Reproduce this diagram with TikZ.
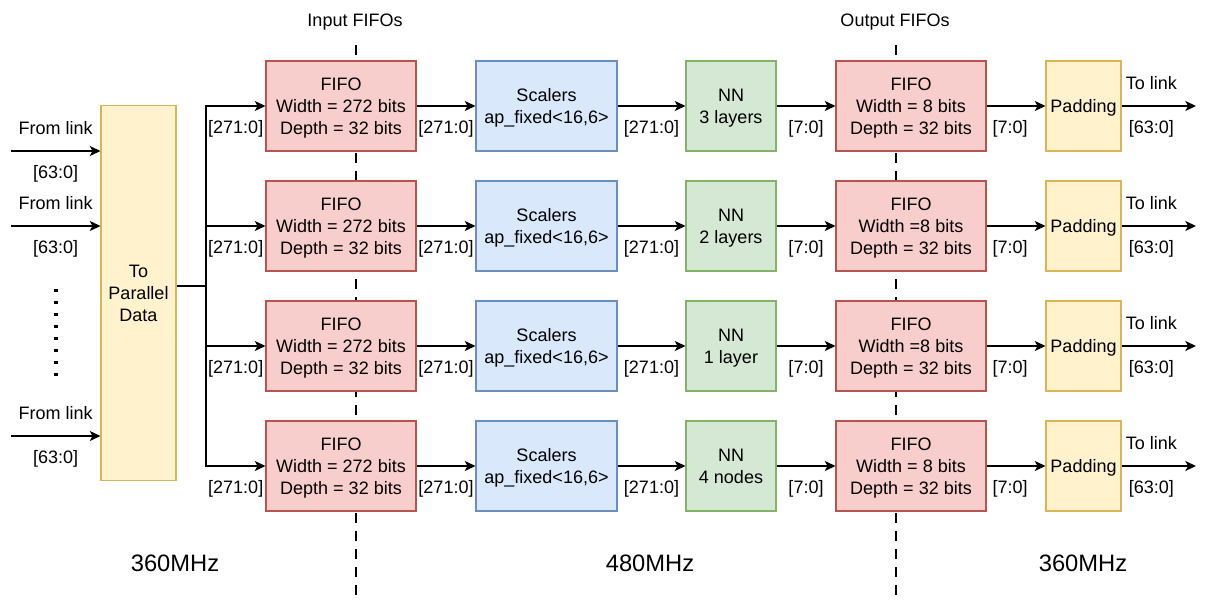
\documentclass[tikz,border=0pt]{standalone}
\usepackage{fontspec}
\setmainfont{Liberation Sans}
\usetikzlibrary{arrows.meta}
\definecolor{fifofill}{HTML}{F8CECC}
\definecolor{fifodraw}{HTML}{B85450}
\definecolor{scalfill}{HTML}{DAE8FC}
\definecolor{scaldraw}{HTML}{6C8EBF}
\definecolor{nnfill}{HTML}{D5E8D4}
\definecolor{nndraw}{HTML}{82B366}
\definecolor{yelfill}{HTML}{FFF2CC}
\definecolor{yeldraw}{HTML}{D6B656}
\begin{document}
\begin{tikzpicture}[x=0.75pt,y=-0.75pt,
  box/.style={draw, line width=0.8pt, inner sep=0pt, align=center, text depth=0pt,
    font=\fontsize{13.5}{16.5}\selectfont, minimum height=67.5pt},
  fifobox/.style={box, fill=fifofill, draw=fifodraw, minimum width=112.5pt},
  scalbox/.style={box, fill=scalfill, draw=scaldraw, minimum width=105.75pt},
  nnbox/.style={box, fill=nnfill, draw=nndraw, minimum width=67.5pt},
  padbox/.style={box, fill=yelfill, draw=yeldraw, minimum width=56.25pt},
  parabox/.style={box, fill=yelfill, draw=yeldraw, minimum width=56.25pt, minimum height=281.25pt},
  conn/.style={line width=1.1pt, -{Stealth[length=8pt,width=7.5pt,inset=2pt]}},
  bus/.style={line width=1.1pt},
  lbl/.style={font=\fontsize{13.5}{16}\selectfont, inner sep=0pt},
  dn/.style={lbl, yshift=-17.5pt},
  up/.style={lbl, yshift=17pt},
  big/.style={font=\fontsize{17.8}{20}\selectfont, inner sep=0pt},
  sep/.style={line width=2.2pt, dash pattern=on 7.5pt off 6pt},
  dots/.style={line width=2.6pt, dash pattern=on 2.6pt off 6.4pt},
]
\useasboundingbox (0,0) rectangle (1209,603);

% clock domain separators
\draw[sep] (356,45) -- (356,597);
\draw[sep] (896,45) -- (896,597);

\node[big] (f1) at (175,563) {360MHz};
\node[big] (f2) at (650,563) {480MHz};
\node[big] (f3) at (1083,563) {360MHz};
\node[lbl] (tin) at (355,22) {Input FIFOs};
\node[lbl] (tout) at (895,22) {Output FIFOs};

% parallel data block
\node[parabox] (para) at (138.5,293) {To\\Parallel\\Data};

% rows
\node[fifobox] (fi1) at (341,106) {FIFO\\Width = 272 bits\\Depth = 32 bits};
\node[fifobox] (fi2) at (341,226) {FIFO\\Width = 272 bits\\Depth = 32 bits};
\node[fifobox] (fi3) at (341,346) {FIFO\\Width = 272 bits\\Depth = 32 bits};
\node[fifobox] (fi4) at (341,466) {FIFO\\Width = 272 bits\\Depth = 32 bits};

\node[scalbox] (sc1) at (546.5,106) {Scalers\\ap\_fixed<16,6>};
\node[scalbox] (sc2) at (546.5,226) {Scalers\\ap\_fixed<16,6>};
\node[scalbox] (sc3) at (546.5,346) {Scalers\\ap\_fixed<16,6>};
\node[scalbox] (sc4) at (546.5,466) {Scalers\\ap\_fixed<16,6>};

\node[nnbox] (nn1) at (731,106) {NN\\3 layers};
\node[nnbox] (nn2) at (731,226) {NN\\2 layers};
\node[nnbox] (nn3) at (731,346) {NN\\1 layer};
\node[nnbox] (nn4) at (731,466) {NN\\4 nodes};

\node[fifobox] (fo1) at (911,106) {FIFO\\Width = 8 bits\\Depth = 32 bits};
\node[fifobox] (fo2) at (911,226) {FIFO\\Width =8 bits\\Depth = 32 bits};
\node[fifobox] (fo3) at (911,346) {FIFO\\Width =8 bits\\Depth = 32 bits};
\node[fifobox] (fo4) at (911,466) {FIFO\\Width = 8 bits\\Depth = 32 bits};

\node[padbox] (pd1) at (1083.5,106) {Padding};
\node[padbox] (pd2) at (1083.5,226) {Padding};
\node[padbox] (pd3) at (1083.5,346) {Padding};
\node[padbox] (pd4) at (1083.5,466) {Padding};

% inputs
\coordinate (in1) at (11,151);
\coordinate (in2) at (11,226);
\coordinate (in3) at (11,436);
\draw[conn] (in1) -- node[up]{From link} node[dn]{[63:0]} (para.west |- in1);
\draw[conn] (in2) -- node[up]{From link} node[dn]{[63:0]} (para.west |- in2);
\draw[conn] (in3) -- node[up]{From link} node[dn]{[63:0]} (para.west |- in3);
\draw[dots] (56,289) -- (56,378);

% bus
\coordinate (bus) at (206,286);
\draw[bus] (para.east |- bus) -- (bus);
\foreach \i in {1,2,3,4}{
  \draw[conn] (bus) |- node[pos=0.75,dn]{[271:0]} (fi\i.west);
  \draw[conn] (fi\i) -- node[dn]{[271:0]} (sc\i);
  \draw[conn] (sc\i) -- node[dn]{[271:0]} (nn\i);
  \draw[conn] (nn\i) -- node[dn]{[7:0]} (fo\i);
  \draw[conn] (fo\i) -- node[pos=0.4,dn]{[7:0]} (pd\i);
  \coordinate (out\i) at (1196,106+120*\i-120);
  \draw[conn] (pd\i) -- node[pos=0.4,up]{To link} node[pos=0.4,dn]{[63:0]} (out\i);
}
\end{tikzpicture}
\end{document}
